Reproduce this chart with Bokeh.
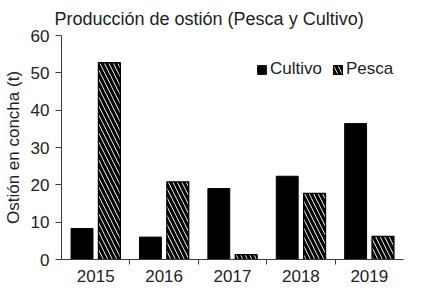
from bokeh.plotting import figure
from bokeh.models import FixedTicker, Legend, LegendItem, ColumnDataSource, Range1d
from bokeh.transform import dodge
from bokeh.embed import file_html
from bokeh.resources import INLINE

years = ["2015", "2016", "2017", "2018", "2019"]
cultivo = [8.3, 6.0, 19.0, 22.3, 36.4]
pesca = [52.7, 20.8, 1.3, 17.7, 6.2]
y_ticks = [0, 10, 20, 30, 40, 50, 60]

idx = list(range(len(years)))
src = ColumnDataSource(dict(x=idx, cultivo=cultivo, pesca=pesca))

FONT = "Liberation Sans"
AX = "#3a3a3a"
TXT = "#222222"

p = figure(width=405, height=284, output_backend="svg", toolbar_location=None,
           x_range=Range1d(-0.5, len(years) - 0.5), y_range=Range1d(0, 60),
           title="Producción de ostión (Pesca y Cultivo)",
           min_border_left=0, min_border_right=2, min_border_top=0, min_border_bottom=0)

p.title.text_font = FONT
p.title.text_font_size = "18px"
p.title.text_font_style = "normal"
p.title.text_color = TXT
p.title.offset = -7
p.title.standoff = 13

p.grid.visible = False
p.outline_line_color = None
p.background_fill_color = "white"
p.border_fill_color = "white"

c = p.vbar(x=dodge("x", -0.2), top="cultivo", width=0.32, source=src,
           fill_color="black", line_color="black", line_width=1)
h = p.vbar(x=dodge("x", 0.2), top="pesca", width=0.32, source=src,
           fill_color="white", line_color="black", line_width=1.3,
           hatch_pattern="\\", hatch_color="black", hatch_scale=9, hatch_weight=3.2)

# x axis
xa = p.xaxis[0]
xa.ticker = FixedTicker(ticks=idx, minor_ticks=[i + 0.5 for i in idx[:-1]])
xa.major_label_overrides = {i: y for i, y in zip(idx, years)}
xa.major_tick_out = 0
xa.major_tick_in = 0
xa.minor_tick_out = 5
xa.minor_tick_in = 0
xa.axis_line_color = AX
xa.minor_tick_line_color = AX
xa.major_label_standoff = 5
xa.major_label_text_font = FONT
xa.major_label_text_font_size = "17px"
xa.major_label_text_color = TXT

ya = p.yaxis[0]
ya.ticker = FixedTicker(ticks=y_ticks)
ya.major_tick_out = 6
ya.major_tick_in = 0
ya.minor_tick_out = 0
ya.minor_tick_in = 0
ya.axis_line_color = AX
ya.major_tick_line_color = AX
ya.major_label_standoff = 6
ya.major_label_text_font = FONT
ya.major_label_text_font_size = "17px"
ya.major_label_text_color = TXT
ya.axis_label = "Ostión en concha (t)"
ya.axis_label_text_font = FONT
ya.axis_label_text_font_size = "17px"
ya.axis_label_text_font_style = "normal"
ya.axis_label_text_color = TXT
ya.axis_label_standoff = 5

legend = Legend(items=[LegendItem(label="Cultivo", renderers=[c]),
                       LegendItem(label="Pesca", renderers=[h])],
                orientation="horizontal", location=(195, 180),
                label_text_font=FONT, label_text_font_size="17px",
                label_text_color=TXT,
                glyph_width=11, glyph_height=11, label_standoff=3, spacing=10,
                padding=0, margin=0, border_line_alpha=0, background_fill_alpha=0)
p.add_layout(legend)

open("out.html", "w").write(file_html(p, INLINE))
